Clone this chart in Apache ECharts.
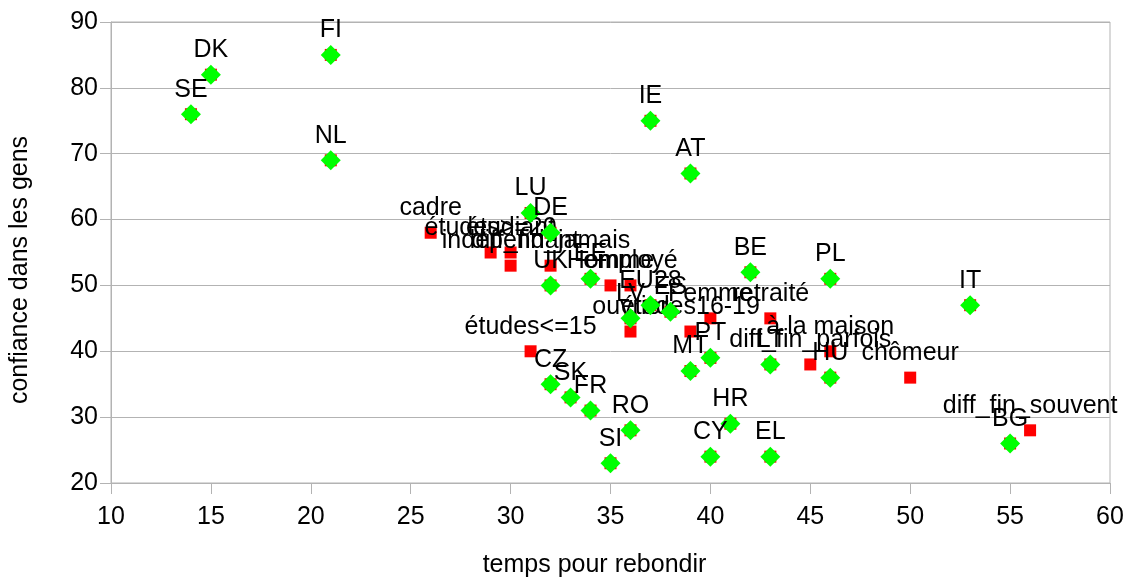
<!DOCTYPE html>
<html>
<head>
<meta charset="utf-8">
<script src="https://cdn.jsdelivr.net/npm/echarts@6/dist/echarts.min.js"></script>
<style>
html,body{margin:0;padding:0;background:#fff;}
#chart{width:1128px;height:583px;}
</style>
</head>
<body>
<div id="chart"></div>
<script>
// Countries (green diamonds)
const countryNames = ['SE','DK','FI','NL','LU','DE','UK','EE','IE','AT','BE','PL','IT','LV','EU28','ES','PT','MT','LT','HU','CZ','SK','FR','RO','SI','CY','HR','EL','BG'];
const countryX = [14,15,21,21,31,32,32,34,37,39,42,46,53,36,37,38,40,39,43,46,32,33,34,36,35,40,41,43,55];
const countryY = [76,82,85,69,61,58,50,51,75,67,52,51,47,45,47,46,39,37,38,36,35,33,31,28,23,24,29,24,26];

// Socio-demographic groups (red squares)
const groupNames = ['cadre','études>=20','étudiant','indépendant','diff_fin_jamais','Homme','employé','études<=15','ouvrier','études16-19','Femme','retraité','à la maison','diff_fin_parfois','chômeur','diff_fin_souvent'];
const groupX = [26,29,30,30,32,35,36,31,36,39,40,43,46,45,50,56];
const groupY = [58,55,55,53,53,50,50,40,43,43,45,45,40,38,36,28];

// Axis ticks
const xTicks = [10,15,20,25,30,35,40,45,50,55,60];
const yTicks = [20,30,40,50,60,70,80,90];

const FONT = 'Liberation Sans, Arial, sans-serif';
const GRAY = '#b3b3b3';

const redData = groupNames.map((n,i)=>({name:n, value:[groupX[i], groupY[i]]}))
  .concat(countryNames.map((n,i)=>({name:n, value:[countryX[i], countryY[i]], label:{show:false}})));
const greenData = countryNames.map((n,i)=>({name:n, value:[countryX[i], countryY[i]]}));

const chart = echarts.init(document.getElementById('chart'), null, {renderer:'canvas'});
chart.setOption({
  animation:false,
  backgroundColor:'#fff',
  grid:{left:110, right:18, top:22, bottom:96, show:true, borderColor:GRAY, borderWidth:1},
  xAxis:{
    type:'value', min:xTicks[0], max:xTicks[xTicks.length-1], interval:5,
    name:'temps pour rebondir', nameLocation:'middle', nameGap:70,
    nameTextStyle:{fontFamily:FONT, fontSize:25, color:'#000', padding:[0,32,0,0]},
    axisLine:{show:true, onZero:false, lineStyle:{color:GRAY, width:1}},
    axisTick:{show:true, inside:false, length:11, lineStyle:{color:GRAY}},
    axisLabel:{fontFamily:FONT, fontSize:25, color:'#000', margin:22},
    splitLine:{show:false}
  },
  yAxis:{
    type:'value', min:yTicks[0], max:yTicks[yTicks.length-1], interval:10,
    name:'confiance dans les gens', nameLocation:'middle', nameGap:78, nameRotate:90,
    nameTextStyle:{fontFamily:FONT, fontSize:25, color:'#000', padding:[0,35,0,0]},
    axisLine:{show:true, onZero:false, lineStyle:{color:GRAY, width:1}},
    axisTick:{show:true, inside:false, length:11, lineStyle:{color:GRAY}},
    axisLabel:{fontFamily:FONT, fontSize:25, color:'#000', margin:13},
    splitLine:{show:true, lineStyle:{color:GRAY, width:1}}
  },
  series:[
    {
      type:'scatter', symbol:'rect', symbolSize:12,
      itemStyle:{color:'#ff0000', opacity:1},
      label:{show:true, position:'top', distance:6, formatter:'{b}', fontFamily:FONT, fontSize:25, color:'#000', opacity:1},
      emphasis:{disabled:true},
      data:redData, z:2
    },
    {
      type:'scatter', symbol:'diamond', symbolSize:20,
      itemStyle:{color:'#00ff00', opacity:1},
      label:{show:true, position:'top', distance:2, formatter:'{b}', fontFamily:FONT, fontSize:25, color:'#000', opacity:1},
      emphasis:{disabled:true},
      data:greenData, z:3
    }
  ]
});
</script>
</body>
</html>
